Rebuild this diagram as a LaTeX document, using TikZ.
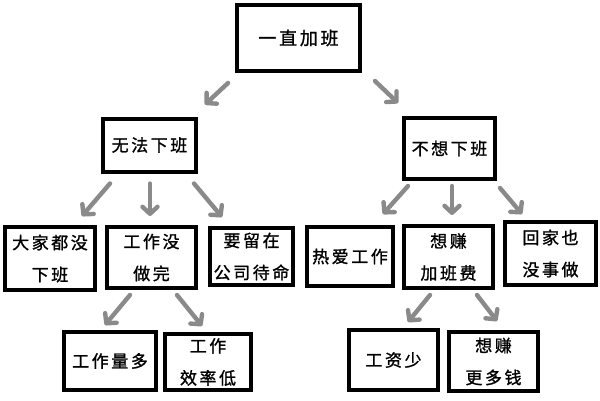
\documentclass[tikz,border=0pt]{standalone}
\usepackage{fontspec}
\newfontfamily\cjk[LetterSpace=15,FakeBold=1.2]{Noto Sans CJK SC}
\usetikzlibrary{arrows.meta,calc}
\begin{document}
\begin{tikzpicture}[x=1pt,y=-1pt,
  box/.style={draw=black,line width=4pt,fill=white,rectangle,align=center,inner sep=0pt,
    font=\cjk\fontsize{17}{32}\selectfont,text=black},
  arr/.style={draw={rgb,255:red,138;green,138;blue,138},line width=4.4pt,line cap=round,
    -{Straight Barb[length=7pt,width=15pt,line width=4.4pt,line cap=round,round]}}]
\useasboundingbox (0,0) rectangle (600,400);
\fill[white] (0,0) rectangle (600,400);
% boxes
\node[box,minimum width=123,minimum height=66,font=\cjk\fontsize{18}{32}\selectfont] (top) at (298.5,38) {一直加班};
\node[box,minimum width=93,minimum height=53] (wufa) at (149.5,145) {无法下班};
\node[box,minimum width=91,minimum height=61] (bux) at (449.5,148.5) {不想下班};
\node[box,minimum width=90,minimum height=63] (dajia) at (50,258.5) {大家都没\\下班};
\node[box,minimum width=89,minimum height=61] (gzm) at (151.5,257.5) {工作没\\做完};
\node[box,minimum width=83,minimum height=57] (yaoliu) at (251.5,256.5) {要留在\\公司待命};
\node[box,minimum width=86,minimum height=59] (reai) at (350,256.5) {热爱工作};
\node[box,minimum width=89,minimum height=62] (xzj) at (448.5,257) {想赚\\加班费};
\node[box,minimum width=91,minimum height=63] (huijia) at (550.5,253.5) {回家也\\没事做};
\node[box,minimum width=92,minimum height=58] (liang) at (110,361) {工作量多};
\node[box,minimum width=86,minimum height=56] (xiaolv) at (208,362) {工作\\效率低};
\node[box,minimum width=89,minimum height=60] (gongzi) at (393.5,360) {工资少};
\node[box,minimum width=89,minimum height=59] (gengduo) at (493.5,361.5) {想赚\\更多钱};
% arrows
\draw[arr] ($(top.south west)+(-7,10)$) -- ($(wufa.north east)+(7,-12)$);
\draw[arr] ($(top.south east)+(13,8)$) -- ($(bux.north west)+(-4,-13)$);
\draw[arr] ($(wufa.south west)+(9,10)$) -- ($(dajia.north)+(32,-9)$);
\draw[arr] ($(wufa.south)+(0.5,10)$) -- ($(gzm.north)+(-1.5,-9)$);
\draw[arr] ($(wufa.south east)+(-4,10)$) -- ($(yaoliu.north)+(-29.5,-9)$);
\draw[arr] ($(bux.south west)+(6,5)$) -- ($(reai.north)+(33,-11)$);
\draw[arr] ($(bux.south)+(2.5,5)$) -- ($(xzj.north)+(3.5,-9)$);
\draw[arr] ($(bux.south east)+(3,7)$) -- ($(huijia.north)+(-28.5,-6)$);
\draw[arr] ($(gzm.south)+(-21.5,5)$) -- ($(liang.north)+(-5,-5)$);
\draw[arr] ($(gzm.south)+(25.5,5)$) -- ($(xiaolv.north)+(-6,-6)$);
\draw[arr] ($(xzj.south)+(-18.5,5)$) -- ($(gongzi.north)+(14.5,-6)$);
\draw[arr] ($(xzj.south)+(28.5,5)$) -- ($(gengduo.north)+(3.5,-9)$);
\end{tikzpicture}
\end{document}
